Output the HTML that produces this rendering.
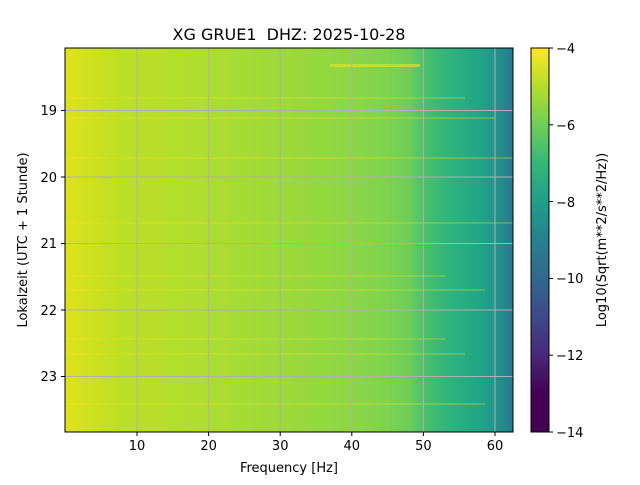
<!DOCTYPE html>
<html><head><style>body{margin:0;background:#fff}svg text{font-family:"DejaVu Sans","Liberation Sans",sans-serif}</style></head><body>
<svg width="640" height="480" xmlns="http://www.w3.org/2000/svg">
<defs>
<linearGradient id="g" x1="65" x2="513" y1="0" y2="0" gradientUnits="userSpaceOnUse">
<stop offset="0" stop-color="#dfe31b"/>
<stop offset="0.05" stop-color="#d0e11f"/>
<stop offset="0.12" stop-color="#bedf26"/>
<stop offset="0.3" stop-color="#b0dd2f"/>
<stop offset="0.45" stop-color="#a0da39"/>
<stop offset="0.6" stop-color="#92d742"/>
<stop offset="0.72" stop-color="#80d34e"/>
<stop offset="0.77" stop-color="#6ccd5a"/>
<stop offset="0.8" stop-color="#4ac16d"/>
<stop offset="0.86" stop-color="#2eb37c"/>
<stop offset="0.92" stop-color="#22a785"/>
<stop offset="0.96" stop-color="#1f968b"/>
<stop offset="1" stop-color="#2a788e"/>
</linearGradient>
<linearGradient id="cb" x1="0" x2="0" y1="48" y2="432" gradientUnits="userSpaceOnUse">
<stop offset="0" stop-color="#fde725"/><stop offset="0.1" stop-color="#b5de2b"/><stop offset="0.2" stop-color="#6ece58"/><stop offset="0.3" stop-color="#35b779"/><stop offset="0.4" stop-color="#1f9e89"/><stop offset="0.5" stop-color="#26828e"/><stop offset="0.6" stop-color="#31688e"/><stop offset="0.7" stop-color="#3e4989"/><stop offset="0.8" stop-color="#482878"/><stop offset="0.9" stop-color="#440154"/><stop offset="1" stop-color="#440154"/>
</linearGradient>
</defs>
<rect x="65" y="48" width="448" height="384" fill="url(#g)"/>
<g fill="#f2e61c" opacity="0.25">
<rect x="65" y="97" width="400" height="2"/><rect x="65" y="117" width="430" height="2"/><rect x="65" y="157" width="448" height="2"/>
<rect x="65" y="222" width="448" height="2"/><rect x="65" y="275" width="380" height="2"/><rect x="65" y="289" width="420" height="2"/>
<rect x="65" y="338" width="380" height="2"/><rect x="65" y="353" width="400" height="2"/><rect x="65" y="403" width="420" height="2"/>
</g>
<rect x="330" y="64" width="90" height="3" fill="#f0e51c" opacity="0.6"/>
<g stroke="#b0b0b0" stroke-width="1">
<line x1="137" y1="48" x2="137" y2="432"/><line x1="208.6" y1="48" x2="208.6" y2="432"/><line x1="280.2" y1="48" x2="280.2" y2="432"/><line x1="351.8" y1="48" x2="351.8" y2="432"/><line x1="423.4" y1="48" x2="423.4" y2="432"/><line x1="495" y1="48" x2="495" y2="432"/>
<line x1="65" y1="110.5" x2="513" y2="110.5"/><line x1="65" y1="177" x2="513" y2="177"/><line x1="65" y1="243.5" x2="513" y2="243.5"/><line x1="65" y1="310" x2="513" y2="310"/><line x1="65" y1="376.5" x2="513" y2="376.5"/>
</g>
<rect x="65" y="48" width="448" height="384" fill="none" stroke="#000" stroke-width="1"/>
<g stroke="#000"><line x1="137" y1="432" x2="137" y2="436"/><line x1="208.6" y1="432" x2="208.6" y2="436"/><line x1="280.2" y1="432" x2="280.2" y2="436"/><line x1="351.8" y1="432" x2="351.8" y2="436"/><line x1="423.4" y1="432" x2="423.4" y2="436"/><line x1="495" y1="432" x2="495" y2="436"/>
<line x1="61" y1="110.5" x2="65" y2="110.5"/><line x1="61" y1="177" x2="65" y2="177"/><line x1="61" y1="243.5" x2="65" y2="243.5"/><line x1="61" y1="310" x2="65" y2="310"/><line x1="61" y1="376.5" x2="65" y2="376.5"/></g>
<g font-size="13" text-anchor="middle"><text x="137" y="450">10</text><text x="208.6" y="450">20</text><text x="280.2" y="450">30</text><text x="351.8" y="450">40</text><text x="423.4" y="450">50</text><text x="495" y="450">60</text></g>
<g font-size="13" text-anchor="end"><text x="57" y="115">19</text><text x="57" y="182">20</text><text x="57" y="248">21</text><text x="57" y="315">22</text><text x="57" y="381">23</text></g>
<text x="289" y="472" font-size="13" text-anchor="middle">Frequency [Hz]</text>
<text transform="translate(27,240) rotate(-90)" font-size="13" text-anchor="middle">Lokalzeit (UTC + 1 Stunde)</text>
<text x="289" y="40" font-size="16" text-anchor="middle">XG GRUE1&#160; DHZ: 2025-10-28</text>
<rect x="531" y="48" width="18" height="384" fill="url(#cb)" stroke="#000" stroke-width="1"/>
<g stroke="#000"><line x1="549" y1="48" x2="553" y2="48"/><line x1="549" y1="124.8" x2="553" y2="124.8"/><line x1="549" y1="201.6" x2="553" y2="201.6"/><line x1="549" y1="278.4" x2="553" y2="278.4"/><line x1="549" y1="355.2" x2="553" y2="355.2"/><line x1="549" y1="432" x2="553" y2="432"/></g>
<g font-size="13"><text x="556" y="53">−4</text><text x="556" y="130">−6</text><text x="556" y="207">−8</text><text x="556" y="283">−10</text><text x="556" y="360">−12</text><text x="556" y="437">−14</text></g>
<text transform="translate(606,240) rotate(-90)" font-size="13" text-anchor="middle">Log10(Sqrt(m**2/s**2/Hz))</text>
</svg>
</body></html>
